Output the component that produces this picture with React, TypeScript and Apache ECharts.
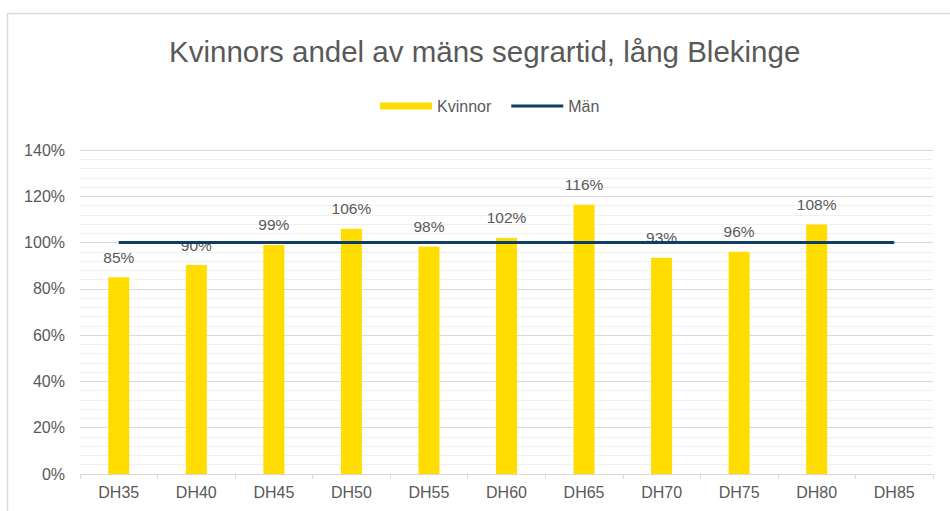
import React, { useEffect, useRef } from "react";
import * as echarts from "echarts";

const categories = ["DH35", "DH40", "DH45", "DH50", "DH55", "DH60", "DH65", "DH70", "DH75", "DH80", "DH85"];
const kvinnor: (number | null)[] = [0.85, 0.903, 0.99, 1.06, 0.983, 1.02, 1.163, 0.934, 0.96, 1.078, null];
const man: number[] = [1, 1, 1, 1, 1, 1, 1, 1, 1, 1, 1];
const titleText = "Kvinnors andel av mäns segrartid, lång Blekinge";

export default function App() {
  const ref = useRef<HTMLDivElement>(null);
  useEffect(() => {
    if (!ref.current) return;
    const chart = echarts.init(ref.current, undefined, { renderer: "svg" });
    const font = "'Liberation Sans', Arial, sans-serif";
    chart.setOption({
      animation: false,
      backgroundColor: "#ffffff",
      textStyle: { fontFamily: font },
      title: {
        text: titleText,
        left: 164,
        top: 31,
        textStyle: { fontFamily: font, fontSize: 29.5, fontWeight: "normal", color: "#595959" },
      },
      legend: {
        top: 93,
        left: 375,
        itemGap: 20,
        itemWidth: 52,
        itemHeight: 7,
        textStyle: { fontFamily: font, fontSize: 16, color: "#595959" },
        data: [
          { name: "Kvinnor", icon: "rect" },
          { name: "Män", icon: "path://M0,2H52V5H0Z" },
        ],
      },
      graphic: [
        {
          type: "rect",
          shape: { x: 7.5, y: 13.5, width: 1000, height: 600 },
          style: { fill: "none", stroke: "#d9d9d9", lineWidth: 1.5 },
          silent: true,
        },
      ],
      grid: { left: 80, right: 17, top: 150, bottom: 37 },
      xAxis: {
        type: "category",
        data: categories,
        axisLine: { show: true, lineStyle: { color: "#d9d9d9", width: 1 } },
        axisTick: { show: true, length: 5, lineStyle: { color: "#d9d9d9" } },
        axisLabel: { fontFamily: font, fontSize: 16, color: "#595959", margin: 10 },
      },
      yAxis: {
        type: "value",
        min: 0,
        max: 1.4,
        interval: 0.2,
        axisLine: { show: false },
        axisTick: { show: false },
        axisLabel: {
          fontFamily: font,
          fontSize: 16,
          color: "#595959",
          margin: 15,
          formatter: (v: number) => Math.round(v * 100) + "%",
        },
        splitLine: { show: true, lineStyle: { color: "#d9d9d9", width: 1 } },
        minorTick: { show: false, splitNumber: 5 },
        minorSplitLine: { show: true, lineStyle: { color: "#f0f0f0", width: 1 } },
      },
      series: [
        {
          name: "Kvinnor",
          type: "bar",
          data: kvinnor,
          barWidth: 21,
          itemStyle: { color: "#FFDD00" },
          label: {
            show: true,
            position: "top",
            distance: 12,
            fontFamily: font,
            fontSize: 15.5,
            color: "#595959",
            formatter: (p: any) => (p.value == null ? "" : Math.round(p.value * 100) + "%"),
          },
          z: 2,
        },
        {
          name: "Män",
          type: "line",
          data: man,
          symbol: "none",
          lineStyle: { color: "#0E3D66", width: 3 },
          itemStyle: { color: "#0E3D66" },
          z: 3,
        },
      ],
    });
    return () => chart.dispose();
  }, []);
  return (
    <div
      ref={ref}
      style={{ position: "fixed", left: 0, top: 0, width: 950, height: 511 }}
    />
  );
}
